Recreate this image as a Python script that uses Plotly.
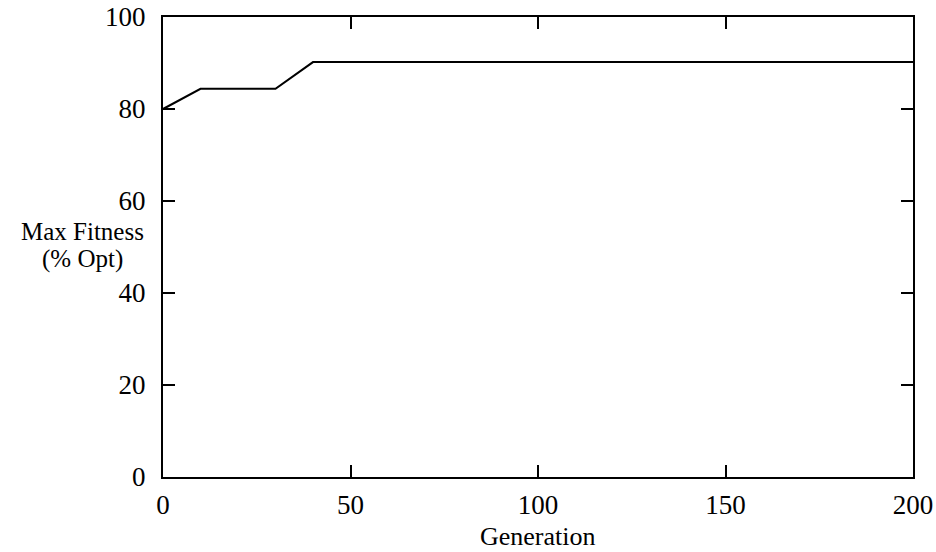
import plotly.graph_objects as go

generation = [0, 10, 30, 40, 200]
max_fitness = [80.0, 84.4, 84.4, 90.2, 90.2]

x_ticks = [0, 50, 100, 150, 200]
y_ticks = [0, 20, 40, 60, 80, 100]

x_title = "Generation"
y_title_lines = ["Max Fitness", "(% Opt)"]

FONT = "Liberation Serif"
FS = 27

fig = go.Figure()
fig.add_trace(go.Scatter(x=generation, y=max_fitness, mode="lines",
                         line=dict(color="black", width=2), showlegend=False))

axis_common = dict(showgrid=False, zeroline=False, showline=True, linecolor="black",
                   linewidth=2, mirror="ticks", ticks="inside", ticklen=12,
                   tickwidth=2, tickcolor="black", automargin=False,
                   tickfont=dict(family=FONT, size=FS, color="black"))

fig.update_xaxes(range=[0, 200], tickvals=x_ticks, ticktext=[str(v) for v in x_ticks],
                 ticklabelstandoff=3, **axis_common)
fig.update_yaxes(range=[0, 100], tickvals=y_ticks, ticktext=[str(v) for v in y_ticks],
                 ticklabelstandoff=10, **axis_common)

PW, PH, L, T = 750, 460, 163, 17

def px(x):
    return (x - L) / PW

def py(y):
    return (T + PH - y) / PH

fig.add_annotation(text=x_title, xref="paper", yref="paper", x=px(538), y=py(536),
                   xanchor="center", yanchor="middle", showarrow=False,
                   font=dict(family=FONT, size=26, color="black"))
for txt, yc in zip(y_title_lines, [231, 259]):
    fig.add_annotation(text=txt, xref="paper", yref="paper", x=px(82), y=py(yc),
                       xanchor="center", yanchor="middle", showarrow=False,
                       font=dict(family=FONT, size=25, color="black"))

fig.update_layout(width=936, height=552, margin=dict(l=L, r=936 - L - PW, t=T, b=552 - T - PH),
                  plot_bgcolor="white", paper_bgcolor="white")

fig.write_html("out.html", config={"displayModeBar": False},
               post_script="document.body.style.margin='0';document.body.style.overflow='hidden';")
